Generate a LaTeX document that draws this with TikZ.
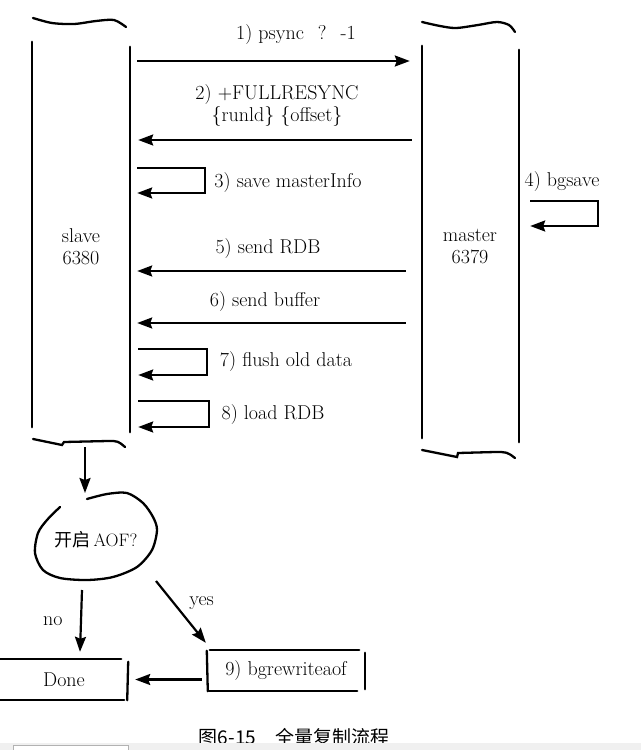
\documentclass[tikz,border=0pt]{standalone}
\usepackage{fontspec}
\newfontfamily\cjk{Noto Sans CJK SC}
\usetikzlibrary{arrows.meta,shapes.geometric,positioning}
\tikzstyle{msg}=[line width=2.2pt,->]
\tikzstyle{pen}=[line width=2.3pt,line cap=round]
\tikzstyle{column}=[minimum width=98pt,minimum height=390pt,inner sep=0pt]

\begin{document}
\begin{tikzpicture}[x=1pt,y=-1pt,>={Stealth[length=15pt,width=11pt,inset=2pt]},
    font=\fontsize{20}{22}\selectfont]
    \useasboundingbox (0,0) rectangle (641,750);
    \node[column](slave) at (81,237) {};
    \node[column,minimum width=97pt,minimum height=396pt](master) at (470.5,244) {};
    \node(slavetxt) at (81,247) [align=center] {slave\\6380};
    \node(mastertxt) at (470,247) [align=center] {master\\6379};
    \draw[pen] (slave.north west) -- ([yshift=5]slave.south west);
    \draw[pen] ([yshift=-5]slave.north east) -- (slave.south east);
    \draw[pen] (master.north west) -- ([yshift=4]master.south west);
    \draw[pen] ([yshift=-4]master.north east) -- (master.south east);
    \draw[pen] plot[smooth] coordinates {(33,18) (52,23) (74,24) (96,21) (114,20) (126,27)};
    \draw[pen] plot[smooth] coordinates {(422,22) (440,26) (456,28) (478,25) (497,22) (509,25) (515,32)};
    \draw[pen] (33,439) .. controls (48,442) .. (62,445) -- (64,442) -- (108,441) .. controls (118,441) .. (125,447);
    \draw[pen] (422,450) .. controls (440,453) .. (457,457) -- (458,453) -- (495,452) .. controls (507,452) .. (515,458);

    \node(l1) at (296,35) {1) psync\hspace{0.7em}?\hspace{0.7em}-1};
    \draw[msg] ([xshift=7]slave.east |- 0,61) -- ([xshift=-12]master.west |- 0,61);
    \node(l2) at (277,106) [align=center] {2) +FULLRESYNC\\\{runld\} \{offset\}};
    \draw[msg] ([xshift=-10]master.west |- 0,140) -- ([xshift=8]slave.east |- 0,140);
    \node(l3) at (288,183) {3) save masterInfo};
    \draw[msg] ([xshift=7]slave.east |- 0,168) -- ++(68,0) -- ++(0,25) -- ++(-68,0);
    \node(l4) at (562,182) {4) bgsave};
    \draw[msg] ([xshift=11]master.east |- 0,201) -- ++(68,0) -- ++(0,25) -- ++(-68,0);
    \node(l5) at (268,249) {5) send RDB};
    \draw[msg] ([xshift=-16]master.west |- 0,271) -- ([xshift=7]slave.east |- 0,271);
    \node(l6) at (265,302) {6) send buffer};
    \draw[msg] ([xshift=-16]master.west |- 0,323) -- ([xshift=7]slave.east |- 0,323);
    \node(l7) at (286,362) {7) flush old data};
    \draw[msg] ([xshift=8]slave.east |- 0,349) -- ++(69,0) -- ++(0,26) -- ++(-69,0);
    \node(l8) at (273,415) {8) load RDB};
    \draw[msg] ([xshift=8]slave.east |- 0,401) -- ++(71,0) -- ++(0,26) -- ++(-71,0);

    \coordinate(sbot) at (85,447);
    \node[ellipse,minimum width=122pt,minimum height=88pt,inner sep=0pt](aof) at (96,540) {\cjk\fontsize{18}{20}\selectfont 开启\,\rmfamily AOF?};
    \draw[pen] plot[smooth] coordinates {(87,499) (107,494) (127,493) (143,503) (153,517) (157,530) (152,550)
        (137,567) (113,577) (87,580) (60,578) (43,570) (35,553) (38,533) (47,520) (60,507)};
    \draw[msg] (sbot) -- (sbot |- 0,493);

    \node[minimum width=128pt,minimum height=41pt,inner sep=0pt](done) at (64,679.5) {Done};
    \draw[pen] (done.north west) -- ([xshift=-7]done.north east);
    \draw[pen] ([yshift=-3]done.north east) -- ([xshift=-1]done.south east);
    \draw[pen] (done.south west) -- ([xshift=-4]done.south east);
    \node[minimum width=158pt,minimum height=40pt,inner sep=0pt](rw) at (286,671) {9) bgrewriteaof};
    \draw[pen] (rw.north west) -- ([xshift=1]rw.south west);
    \draw[pen] ([xshift=3,yshift=1]rw.north west) -- ([xshift=-6,yshift=1]rw.north east);
    \draw[pen] ([yshift=-2]rw.north east) -- ([yshift=2]rw.south east);
    \draw[pen] ([xshift=2]rw.south west) -- ([xshift=-8]rw.south east);

    \draw[msg] (82,590) -- node[left=14pt]{no} ([xshift=16,yshift=7]done.north);
    \draw[msg] (156,581) -- node[above right=-2pt and 4pt]{yes} ([xshift=-1,yshift=8]rw.north west);
    \draw[msg] ([xshift=-5]rw.west |- done.east) -- ([xshift=7]done.east);

    \node(caption) at (294,737) {\cjk\fontsize{19}{22}\selectfont 图6-15\quad 全量复制流程};
    \fill[black!6] (0,743) rectangle (641,750);
    \filldraw[fill=white,draw=black!30] (13,745) rectangle (128,750);
\end{tikzpicture}
\end{document}
